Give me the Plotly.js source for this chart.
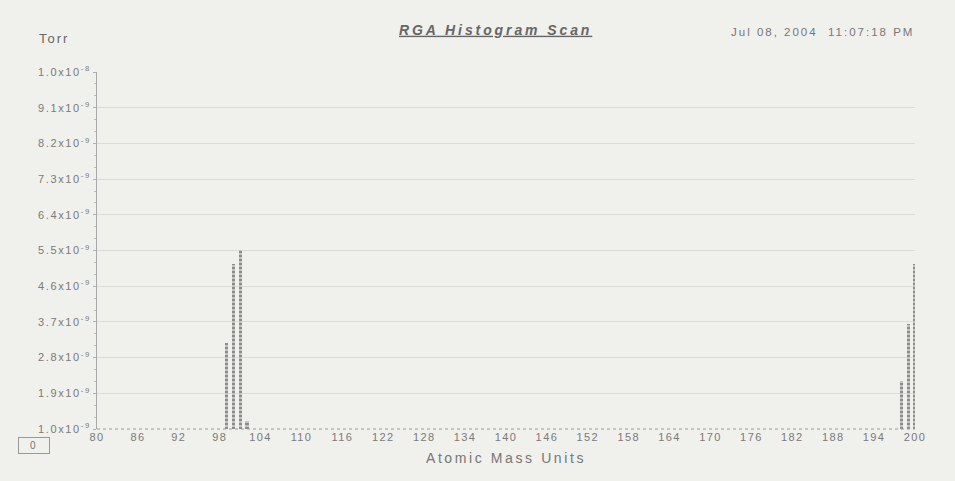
<!DOCTYPE html>
<html><head><meta charset="utf-8">
<script src="https://cdn.plot.ly/plotly-3.0.1.min.js"></script>
<style>
html,body{margin:0;padding:0;background:#f0f0ec;}
#c{width:955px;height:481px;}
#c .gtitle{letter-spacing:2.9px;}
#c .xtitle{letter-spacing:2.6px;}
#c .ytick text{letter-spacing:1.6px;}
#c .xtick text{letter-spacing:1.4px;}
#c .annotation-text{letter-spacing:2px;}
</style>
</head><body><div id="c"></div>
<script>
const masses = [99, 100, 101, 102, 198, 199, 200];
const pressures = [3.17e-9, 5.17e-9, 5.51e-9, 1.2e-9, 2.21e-9, 3.64e-9, 5.17e-9];
const yTickVals = [1.0e-9, 1.9e-9, 2.8e-9, 3.7e-9, 4.6e-9, 5.5e-9, 6.4e-9, 7.3e-9, 8.2e-9, 9.1e-9, 1.0e-8];
const yTickText = ["1.0x10<sup>-9</sup>","1.9x10<sup>-9</sup>","2.8x10<sup>-9</sup>","3.7x10<sup>-9</sup>","4.6x10<sup>-9</sup>","5.5x10<sup>-9</sup>","6.4x10<sup>-9</sup>","7.3x10<sup>-9</sup>","8.2x10<sup>-9</sup>","9.1x10<sup>-9</sup>","1.0x10<sup>-8</sup>"];
const xTickVals = [80,86,92,98,104,110,116,122,128,134,140,146,152,158,164,170,176,182,188,194,200];

const base = pressures.map(() => 1.0e-9);
const trace = {
  type: 'bar', x: masses, y: pressures.map(p => p - 1.0e-9), base: base,
  width: 0.45,
  marker: {color: '#9a9a9a', line: {width: 0},
    pattern: {shape: '-', fgcolor: '#dcdcd8', bgcolor: '#8c8c8c', size: 4, solidity: 0.35}},
  cliponaxis: false, hoverinfo: 'x+y'
};
const grey = '#7a7a7a';
const layout = {
  width: 955, height: 481,
  paper_bgcolor: '#f0f0ec', plot_bgcolor: '#f0f0ec',
  margin: {l: 97, r: 40, t: 72, b: 52},
  showlegend: false, bargap: 0,
  font: {family: 'Liberation Sans, Arial, sans-serif', color: grey, size: 11},
  xaxis: {range: [80, 200], tickvals: xTickVals, ticktext: xTickVals.map(String),
    showgrid: false, zeroline: false, showline: false,
    ticks: '', tickfont: {size: 11, color: grey},
    title: {text: 'Atomic Mass Units', font: {size: 14, color: '#777'}, standoff: 11}},
  yaxis: {range: [1.0e-9, 1.0e-8], tickvals: yTickVals, ticktext: yTickText,
    showgrid: true, gridcolor: '#dcdcd6', gridwidth: 1, zeroline: false,
    showline: true, linecolor: '#a8a8a8', linewidth: 1, ticks: 'outside', ticklen: 3, tickcolor: '#b0b0b0',
    minor: {ticks: 'outside', ticklen: 2, tickcolor: '#c0c0c0', dtick: 0.3e-9, tick0: 1e-9, showgrid: false},
    tickfont: {size: 11, color: grey}, ticklabelstandoff: 0},
  title: {text: 'RGA Histogram Scan', font: {size: 14, color: '#666', style: 'italic', weight: 'bold', lineposition: 'under'},
    x: 0.519, xanchor: 'center', y: 0.938, yanchor: 'middle'},
  annotations: [
    {text: 'Torr', xref: 'paper', yref: 'paper', x: -0.0515, y: 1.095, xanchor: 'center', yanchor: 'middle', showarrow: false, font: {size: 13, color: '#666'}},
    {text: 'Jul 08, 2004&nbsp;&nbsp;11:07:18 PM', xref: 'paper', yref: 'paper', x: 0.9707, y: 1.112, xanchor: 'right', yanchor: 'middle', showarrow: false, font: {size: 11.5, color: '#777'}},
    {text: '0', xref: 'paper', yref: 'paper', x: -0.077, y: -0.045, xanchor: 'center', yanchor: 'middle', showarrow: false, font: {size: 10, color: '#777'}, bordercolor: '#999', borderwidth: 1, borderpad: 2, width: 26, bgcolor: '#f0f0ec'}
  ],
  shapes: [
    {type: 'line', xref: 'paper', yref: 'paper', x0: 0, x1: 1, y0: 0, y1: 0, line: {color: '#9a9a9a', width: 1, dash: 'dot'}}
  ]
};
Plotly.newPlot('c', [trace], layout, {displayModeBar: false, staticPlot: true});
</script></body></html>
